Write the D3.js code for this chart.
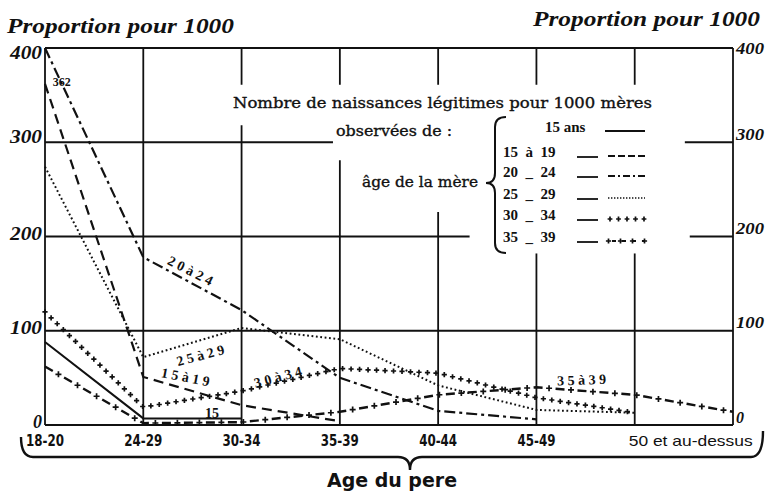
<!DOCTYPE html>
<html><head><meta charset="utf-8">
<script src="https://cdn.jsdelivr.net/npm/d3@7"></script>
<style>body{margin:0;background:#fff}svg{display:block}</style>
</head><body><svg id="c" width="770" height="491"></svg>
<script>
// ---- data ----
const fatherAges = ["18-20","24-29","30-34","35-39","40-44","45-49","50 et au-dessus"];
const yTicks = [0, 100, 200, 300, 400];
const mother15 = [88, 7, 7];
const mother15to19 = [362, 51, 21, 4];
const mother20to24 = [400, 178, 122, 50, 15, 6];
const mother25to29 = [274, 72, 103, 91, 42, 16, 13];
const mother30to34 = [120, 19, 36, 60, 55, 29, 13];
const mother35to39 = [62, 2, 3, 14, 32, 40, 32, 14];
const legendLabels = ["15 ans", "15  à  19", "20  _  24", "25  _  29", "30  _  34", "35  _  39"];

const svg = d3.select("#c");
const x = d3.scaleLinear().domain([0, 7]).range([45, 733]);
const y = d3.scaleLinear().domain([0, 400]).range([425, 48]);

const serifBI = "'Liberation Serif','DejaVu Serif',serif";
const ink = "#111";

// ---- grid ----
const g = svg.append("g").attr("stroke", ink).attr("stroke-width", 1.8).attr("fill", "none");
const hGrid = [
  [400, [[0, 7]]],
  [300, [[0, 2.93], [6.51, 7]]],
  [200, [[0, 4.32], [6.56, 7]]],
  [100, [[0, 7]]],
  [0,   [[0, 7]]]
];
hGrid.forEach(([v, segs]) => segs.forEach(([a, b]) =>
  g.append("line").attr("x1", x(a)).attr("x2", x(b)).attr("y1", y(v)).attr("y2", y(v))));
const vGrid = [
  [0, [[0, 400]]],
  [1, [[0, 400]]],
  [2, [[0, 318], [361, 400]]],
  [3, [[0, 281], [361, 400]]],
  [4, [[0, 226], [361, 400]]],
  [5, [[0, 182], [361, 400]]],
  [6, [[0, 182], [361, 400]]],
  [7, [[0, 400]]]
];
vGrid.forEach(([i, segs]) => segs.forEach(([a, b]) =>
  g.append("line").attr("x1", x(i)).attr("x2", x(i)).attr("y1", y(a)).attr("y2", y(b))));

// ---- axis labels ----
const leftOff = {0: -3, 100: -3, 200: -3, 300: -6, 400: 5};
yTicks.forEach(v => {
  const t = svg.append("text").attr("x", 42).attr("y", y(v) + leftOff[v]).attr("dy", "0.35em")
    .attr("text-anchor", "end").attr("font-family", serifBI).attr("font-style", "italic")
    .attr("font-weight", "bold").attr("font-size", 18).attr("fill", ink).text(v);
  if (v > 0) t.attr("textLength", 32).attr("lengthAdjust", "spacingAndGlyphs");
  const r = svg.append("text").attr("x", 736).attr("y", y(v) - (v === 400 ? 0 : 8)).attr("dy", "0.35em")
    .attr("text-anchor", "start").attr("font-family", serifBI).attr("font-style", "italic")
    .attr("font-weight", "bold").attr("font-size", 16).attr("fill", ink).text(v);
  if (v > 0) r.attr("textLength", 28).attr("lengthAdjust", "spacingAndGlyphs");
});
svg.append("text").attr("x", 7).attr("y", 33).attr("font-family", serifBI).attr("font-style", "italic")
  .attr("font-weight", "bold").attr("font-size", 21).attr("textLength", 227).attr("lengthAdjust", "spacingAndGlyphs")
  .attr("fill", ink).text("Proportion pour 1000");
svg.append("text").attr("x", 533).attr("y", 26).attr("font-family", serifBI).attr("font-style", "italic")
  .attr("font-weight", "bold").attr("font-size", 21).attr("textLength", 227).attr("lengthAdjust", "spacingAndGlyphs")
  .attr("fill", ink).text("Proportion pour 1000");

// x tick labels
const tickFont = "'Liberation Sans Narrow','DejaVu Sans Condensed','Liberation Sans',sans-serif";
fatherAges.forEach((lab, i) => {
  const last = i === fatherAges.length - 1;
  const t = svg.append("text").attr("x", last ? x(i) - 6 : x(i)).attr("y", 446)
    .attr("text-anchor", last ? "start" : "middle")
    .attr("font-family", last ? "'Liberation Sans',sans-serif" : tickFont)
    .attr("font-weight", last ? "normal" : "bold").attr("font-size", 15)
    .attr("fill", ink).text(lab);
  if (last) t.attr("textLength", 124).attr("lengthAdjust", "spacingAndGlyphs");
  else t.attr("textLength", 38).attr("lengthAdjust", "spacingAndGlyphs");
});
// bottom brace
(function(){
  const x1 = 21, x2 = 763, xm = 410, y0 = 437, y1 = 457, y2 = 470, r = 12;
  svg.append("path").attr("fill", "none").attr("stroke", ink).attr("stroke-width", 2.4)
    .attr("d", `M${x1},${y0} Q${x1},${y1} ${x1+r},${y1} L${xm-r},${y1} Q${xm},${y1} ${xm},${y2} Q${xm},${y1} ${xm+r},${y1} L${x2-r},${y1} Q${x2},${y1} ${x2},${y0-6}`);
})();
svg.append("text").attr("x", 392).attr("y", 487).attr("text-anchor", "middle")
  .attr("font-family", tickFont).attr("font-weight", "bold").attr("font-size", 19)
  .attr("textLength", 130).attr("lengthAdjust", "spacingAndGlyphs").attr("fill", ink).text("Age du pere");

// ---- series ----
const line = d3.line().x((d, i) => x(i)).y(d => y(d));
const lines = svg.append("g").attr("fill", "none").attr("stroke", ink);

function plusMarks(node, spacing, offset, size, parent) {
  const L = node.getTotalLength();
  for (let s = offset; s <= L + 0.5; s += spacing) {
    const p = node.getPointAtLength(Math.min(s, L));
    parent.append("path").attr("d", `M${p.x-size},${p.y}H${p.x+size}M${p.x},${p.y-size}V${p.y+size}`)
      .attr("stroke", ink).attr("stroke-width", 1.7).attr("fill", "none");
  }
}

lines.append("path").datum(mother15).attr("d", line).attr("stroke-width", 2);
lines.append("path").datum(mother15to19).attr("d", line).attr("stroke-width", 2.2).attr("stroke-dasharray", "10,6");
lines.append("path").datum(mother20to24).attr("d", line).attr("stroke-width", 2.2).attr("stroke-dasharray", "11,4,3,4");
lines.append("path").datum(mother25to29).attr("d", line).attr("stroke-width", 2).attr("stroke-dasharray", "1.8,2.6");
const p30 = lines.append("path").datum(mother30to34).attr("d", line).attr("stroke", "none");
plusMarks(p30.node(), 8.5, 0, 2.6, lines);
const p35 = lines.append("path").datum(mother35to39).attr("d", line).attr("stroke-width", 2.4).attr("stroke-dasharray", "9,13");
plusMarks(p35.node(), 22, 15.5, 3, lines);

// ---- line labels ----
const lblFont = "'Liberation Serif','DejaVu Serif',serif";
function lbl(txt, i, v, rot, size) {
  svg.append("text").attr("transform", `translate(${x(i)},${y(v)}) rotate(${rot})`)
    .attr("text-anchor", "middle").attr("dy", "0.35em").attr("font-family", lblFont)
    .attr("font-weight", "bold").attr("font-size", size).attr("fill", ink).text(txt);
}
lbl("362", 0.17, 364, 0, 12);
lbl("2 0  à  2 4", 1.48, 164, 27, 14);
lbl("2 5 à  2 9", 1.58, 74, -15, 14);
lbl("1 5  à  1 9", 1.43, 51, 11, 14);
lbl("3 0  à  3 4", 2.37, 51, -15, 14);
lbl("15", 1.7, 13, 0, 14);
lbl("3 5  à  3 9", 5.46, 48, -2, 14);

// ---- legend ----
const legFont = "'DejaVu Serif','Liberation Serif',serif";
function legText(txt, xx, yy, len) {
  svg.append("text").attr("x", xx).attr("y", yy).attr("font-family", legFont).attr("font-size", 15)
    .attr("stroke", ink).attr("stroke-width", 0.35)
    .attr("textLength", len).attr("lengthAdjust", "spacingAndGlyphs").attr("fill", ink).text(txt);
}
legText("Nombre de naissances légitimes pour 1000 mères", 233, 108, 419);
legText("observées de :", 336, 136, 116);
legText("âge de la mère", 362, 187, 116);
// vertical brace
(function(){
  const x0 = 506, x1 = 495, x2 = 486, ya = 117, yb = 253, ym = 183, r = 10;
  svg.append("path").attr("fill", "none").attr("stroke", ink).attr("stroke-width", 2)
    .attr("d", `M${x0},${ya} Q${x1},${ya} ${x1},${ya+r} L${x1},${ym-r} Q${x1},${ym} ${x2},${ym} Q${x1},${ym} ${x1},${ym+r} L${x1},${yb-r} Q${x1},${yb} ${x0},${yb}`);
})();
const rowY = [127, 152, 172, 194, 215, 237];
const legG = svg.append("g");
legendLabels.forEach((lab, k) => {
  const ry = rowY[k];
  legG.append("text").attr("x", k === 0 ? 545 : 503).attr("y", ry + 5).attr("font-family", lblFont)
    .attr("font-weight", "bold").attr("font-size", 15).attr("fill", ink)
    .style("white-space", "pre").text(lab);
  if (k > 0) legG.append("line").attr("x1", 577).attr("x2", 598).attr("y1", ry + 5).attr("y2", ry + 5)
    .attr("stroke", ink).attr("stroke-width", 1.8);
  const sy = ry + 4;
  const seg = legG.append("line").attr("x1", k === 0 ? 605 : 608).attr("x2", 645).attr("y1", sy).attr("y2", sy)
    .attr("stroke", ink).attr("stroke-width", 2);
  if (k === 2) seg.attr("stroke-dasharray", "7,3,2,3");
  if (k === 1) seg.attr("stroke-dasharray", "7,3");
  if (k === 3) seg.attr("stroke-dasharray", "1.4,1.6").attr("stroke-width", 1.6);
  if (k === 4) { seg.attr("stroke", "none"); }
  if (k === 5) { seg.attr("stroke-dasharray", "4,6").attr("x1", 612); }
});
const s4 = legG.append("path").attr("d", `M610,${rowY[4]+4}H645`).attr("stroke", "none");
plusMarks(s4.node(), 8.5, 0, 2.4, legG);
const s5 = legG.append("path").attr("d", `M608,${rowY[5]+4}H645`).attr("stroke", "none");
plusMarks(s5.node(), 12, 0.5, 2.6, legG);
</script>
</body></html>
